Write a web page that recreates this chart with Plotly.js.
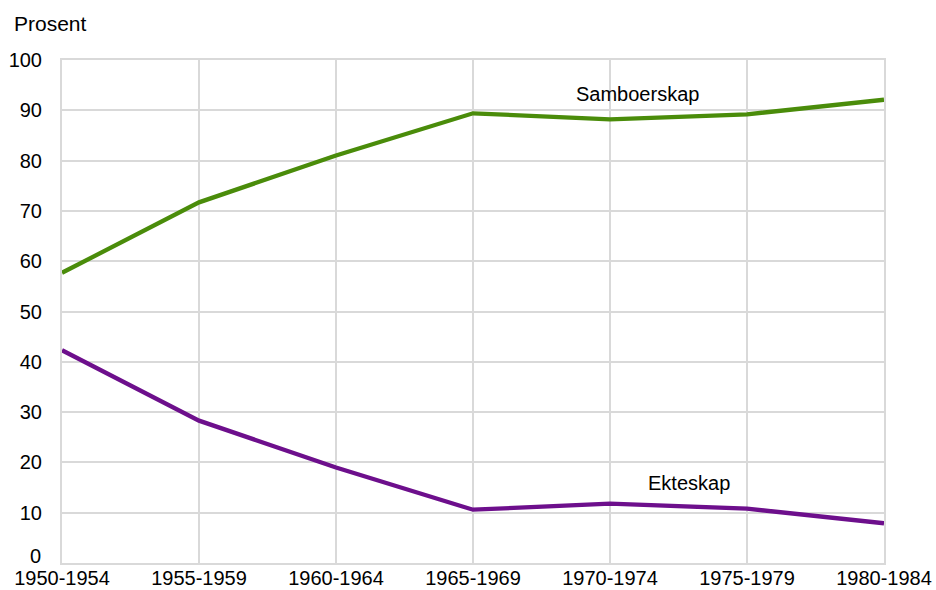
<!DOCTYPE html>
<html>
<head>
<meta charset="utf-8">
<script src="https://cdn.plot.ly/plotly-3.0.1.min.js"></script>
<style>html,body{margin:0;padding:0;background:#fff;}#chart{width:936px;height:590px;}</style>
</head>
<body>
<div id="chart"></div>
<script>
const categories = ["1950-1954","1955-1959","1960-1964","1965-1969","1970-1974","1975-1979","1980-1984"];
const samboerskap = [57.7, 71.7, 81.0, 89.4, 88.2, 89.2, 92.1];
const ekteskap = [42.3, 28.3, 19.0, 10.6, 11.8, 10.8, 7.9];
const yTicks = [0,10,20,30,40,50,60,70,80,90,100];

const xIdx = categories.map((c,i)=>i);
const font = {family: "Liberation Sans, Arial, sans-serif", size: 20, color: "#000"};

const traces = [
  {x: xIdx, y: samboerskap, type: "scatter", mode: "lines", name: "Samboerskap",
   line: {color: "#4A8C0A", width: 4.3}, hoverinfo: "skip"},
  {x: xIdx, y: ekteskap, type: "scatter", mode: "lines", name: "Ekteskap",
   line: {color: "#6D0F8C", width: 4.3}, hoverinfo: "skip"}
];

const layout = {
  width: 936, height: 590,
  margin: {l: 62, r: 52, t: 60, b: 27},
  paper_bgcolor: "#fff", plot_bgcolor: "#fff",
  showlegend: false,
  font: font,
  xaxis: {
    range: [0, categories.length - 1],
    tickvals: xIdx, ticktext: categories,
    showgrid: true, gridcolor: "#d9d9d9", gridwidth: 2,
    zeroline: false, showline: true, linecolor: "#d9d9d9", linewidth: 2, mirror: true,
    ticks: "", tickfont: font, ticklabelstandoff: -4, fixedrange: true
  },
  yaxis: {
    range: [0, 100], tickvals: yTicks,
    ticktext: yTicks.map(v => v === 0 ? "" : String(v)),
    showgrid: true, gridcolor: "#d9d9d9", gridwidth: 2,
    zeroline: false, showline: true, linecolor: "#d9d9d9", linewidth: 2, mirror: true,
    ticks: "", tickfont: font, ticklabelstandoff: 14, fixedrange: true
  },
  annotations: [
    {xref: "paper", yref: "paper", x: (12-62)/822, y: 1 + 36/503, xanchor: "left", yanchor: "middle",
     text: "Prosent", showarrow: false, font: {family: font.family, size: 21, color: "#000"}},
    {xref: "paper", yref: "y", x: -19/822, y: yTicks[0], yshift: 7, xanchor: "right", yanchor: "middle",
     text: String(yTicks[0]), showarrow: false, font: font},
    {xref: "x", yref: "y", x: 4.2, y: 93.2, text: "Samboerskap", showarrow: false, font: font,
     xanchor: "center", yanchor: "middle"},
    {xref: "x", yref: "y", x: 4.58, y: 15.9, text: "Ekteskap", showarrow: false, font: font,
     xanchor: "center", yanchor: "middle"}
  ]
};

Plotly.newPlot("chart", traces, layout, {staticPlot: true, displayModeBar: false});
</script>
</body>
</html>
